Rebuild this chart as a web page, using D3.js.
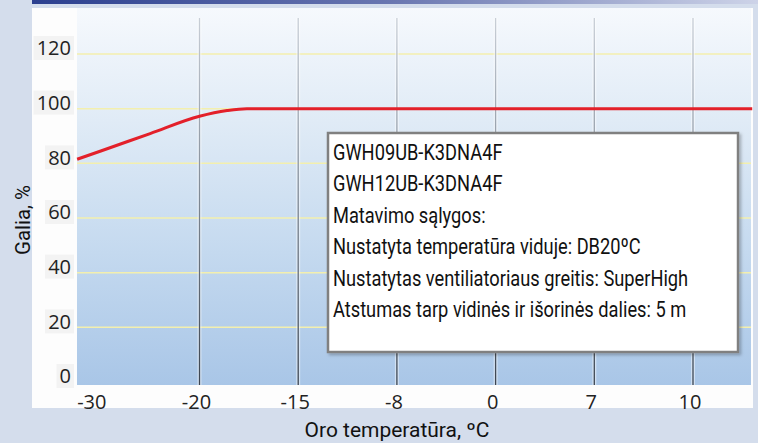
<!DOCTYPE html>
<html>
<head>
<meta charset="utf-8">
<script src="https://cdn.jsdelivr.net/npm/d3@7"></script>
<style>
  body { margin: 0; background: #d4ddec; }
  svg { display: block; }
  .tick-label { font-family: "Open Sans", sans-serif; font-size: 20px; fill: #222; }
  .cond { font-family: Roboto, "DejaVu Sans Condensed", sans-serif; fill: #111; }
</style>
</head>
<body>
<svg width="758" height="443"></svg>
<script>
// category axis (outdoor temperature, evenly spaced ticks)
const tempTicks = [-30, -20, -15, -8, 0, 7, 10];
const powerTicks = [0, 20, 40, 60, 80, 100, 120];

// red curve (temperature °C, power %)
const curveTemp = [-32.4, -30, -25, -20, -18.6, -17.6, -15, -8, 0, 7, 10, 11.8];
const curvePower = [81.5, 84.5, 90.9, 97.2, 99.3, 100, 100, 100, 100, 100, 100, 100];

const legendLines = [
  'GWH09UB-K3DNA4F',
  'GWH12UB-K3DNA4F',
  'Matavimo sąlygos:',
  'Nustatyta temperatūra viduje: DB20ºC',
  'Nustatytas ventiliatoriaus greitis: SuperHigh',
  'Atstumas tarp vidinės ir išorinės dalies: 5 m'
];

const svg = d3.select('svg');
const defs = svg.append('defs');

const plot = { left: 77, right: 751, top: 8, bottom: 385 };

// gradients
const barGrad = defs.append('linearGradient').attr('id', 'bar');
barGrad.append('stop').attr('offset', '0%').attr('stop-color', '#2b3f8f');
barGrad.append('stop').attr('offset', '50%').attr('stop-color', '#6a77b1');
barGrad.append('stop').attr('offset', '100%').attr('stop-color', '#cdd3e8');

const plotGrad = defs.append('linearGradient').attr('id', 'plotbg')
  .attr('x1', 0).attr('y1', 0).attr('x2', 0).attr('y2', 1);
plotGrad.append('stop').attr('offset', '0%').attr('stop-color', '#f6f9fd');
plotGrad.append('stop').attr('offset', '30%').attr('stop-color', '#e0ebf6');
plotGrad.append('stop').attr('offset', '65%').attr('stop-color', '#c4d9ef');
plotGrad.append('stop').attr('offset', '100%').attr('stop-color', '#a9c6e7');

const vGrad = defs.append('linearGradient').attr('id', 'vline')
  .attr('gradientUnits', 'userSpaceOnUse')
  .attr('x1', 0).attr('y1', plot.top).attr('x2', 0).attr('y2', plot.bottom);
vGrad.append('stop').attr('offset', '0%').attr('stop-color', '#ccd2da');
vGrad.append('stop').attr('offset', '45%').attr('stop-color', '#86909c');
vGrad.append('stop').attr('offset', '100%').attr('stop-color', '#3b4450');

const shadow = defs.append('filter').attr('id', 'shadow')
  .attr('x', '-5%').attr('y', '-5%').attr('width', '110%').attr('height', '115%');
shadow.append('feDropShadow').attr('dx', 2).attr('dy', 2).attr('stdDeviation', 1.5)
  .attr('flood-color', '#000').attr('flood-opacity', 0.25);

// frame
svg.append('rect').attr('x', 32).attr('y', 0).attr('width', 726).attr('height', 4)
  .attr('fill', 'url(#bar)');
svg.append('rect').attr('x', 32).attr('y', 8).attr('width', 721).attr('height', 400)
  .attr('fill', '#fdfdfd');
svg.append('rect').attr('x', plot.left).attr('y', plot.top)
  .attr('width', plot.right - plot.left).attr('height', plot.bottom - plot.top)
  .attr('fill', 'url(#plotbg)');

// scales
const step = (693 - 199.5) / 5;
const x = d3.scaleLinear()
  .domain(tempTicks)
  .range(tempTicks.map((d, i) => 100.8 + i * step));
const y = d3.scaleLinear().domain([0, 120]).range([382, 54]);

// horizontal grid
svg.append('g').selectAll('line')
  .data(powerTicks.filter(d => d > 0))
  .join('line')
  .attr('x1', plot.left).attr('x2', plot.right)
  .attr('y1', d => y(d)).attr('y2', d => y(d))
  .attr('stroke', '#f3efae').attr('stroke-width', 1.5);

// vertical lines
const vg = svg.append('g');
const vTicks = tempTicks.slice(1);
vg.selectAll('line.halo')
  .data(vTicks)
  .join('line').attr('class', 'halo')
  .attr('x1', d => x(d)).attr('x2', d => x(d))
  .attr('y1', 18).attr('y2', plot.bottom)
  .attr('stroke', '#ffffff').attr('stroke-opacity', 0.45).attr('stroke-width', 4);
vg.selectAll('line.v')
  .data(vTicks)
  .join('line').attr('class', 'v')
  .attr('x1', d => x(d)).attr('x2', d => x(d))
  .attr('y1', 18).attr('y2', plot.bottom)
  .attr('stroke', 'url(#vline)').attr('stroke-width', 1.3);

// curve
const line = d3.line()
  .x(d => x(d[0]))
  .y(d => y(d[1]))
  .curve(d3.curveMonotoneX);
svg.append('path')
  .datum(curveTemp.map((t, i) => [t, curvePower[i]]))
  .attr('d', line)
  .attr('fill', 'none')
  .attr('stroke', '#e3202a')
  .attr('stroke-width', 3);

// y tick labels
const yl = svg.append('g').selectAll('g')
  .data(powerTicks)
  .join('g')
  .attr('transform', d => `translate(71, ${y(d) - 6})`);
yl.append('rect')
  .attr('x', d => -(String(d).length * 11.5) - 3).attr('y', -12)
  .attr('width', d => String(d).length * 11.5 + 6).attr('height', 24)
  .attr('fill', '#f3f3f3');
yl.append('text').attr('class', 'tick-label')
  .attr('text-anchor', 'end').attr('dy', '0.36em')
  .text(d => d);

// x tick labels
const xl = svg.append('g').selectAll('g')
  .data(tempTicks)
  .join('g')
  .attr('transform', d => `translate(${x(d) - (d === -30 ? 9 : 3)}, 402)`);
xl.append('text').attr('class', 'tick-label')
  .attr('text-anchor', 'middle').attr('dy', '0.36em')
  .text(d => d);

// condensed text: squeeze horizontally so sample strings get their widths
function squeeze(sel, target) {
  const w = d3.sum(sel.nodes(), n => n.getComputedTextLength());
  return target / w;
}

// legend box
const lg = svg.append('g');
lg.append('rect')
  .attr('x', 328).attr('y', 133).attr('width', 410).attr('height', 219)
  .attr('fill', '#ffffff').attr('stroke', '#808080').attr('stroke-width', 2.5)
  .attr('filter', 'url(#shadow)');
const lt = lg.selectAll('text')
  .data(legendLines)
  .join('text').attr('class', 'cond')
  .attr('font-size', 22)
  .text(d => d);
const k = squeeze(lt.filter((d, i) => i === 0 || i === 5), 174 + 349);
lt.attr('transform', (d, i) => `translate(333, ${160 + i * 31.4}) scale(${k}, 1)`);

// axis titles
const yt = svg.append('text').attr('class', 'cond')
  .attr('text-anchor', 'middle')
  .attr('font-size', 20)
  .text('Galia, %');
yt.attr('transform', `translate(30, 220) rotate(-90) scale(${squeeze(yt, 70)}, 1)`);
const xt = svg.append('text').attr('class', 'cond')
  .attr('text-anchor', 'middle')
  .attr('font-size', 20)
  .text('Oro temperatūra, ºC');
xt.attr('transform', `translate(397, 437) scale(${squeeze(xt, 185)}, 1)`);
</script>
</body>
</html>
